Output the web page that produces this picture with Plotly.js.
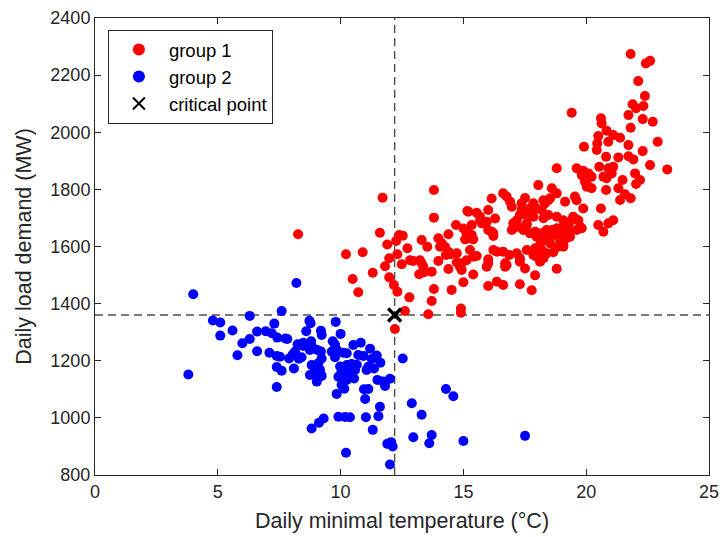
<!DOCTYPE html>
<html>
<head>
<meta charset="utf-8">
<script src="https://cdn.plot.ly/plotly-3.0.1.min.js"></script>
<style>html,body{margin:0;padding:0;background:#fff;}#chart{width:720px;height:537px;}</style>
</head>
<body>
<div id="chart"></div>
<script>
// group 1 (red)
var group1X = [8.27,10.22,10.9,10.49,10.72,11.31,11.6,11.71,11.81,11.9,
11.98,11.98,12.17,12.31,12.21,12.26,12.39,12.53,12.31,12.49,
12.62,12.72,12.8,12.83,12.96,13.23,13.3,13.37,13.2,13.4,
13.71,13.3,13.53,13.57,13.71,13.8,13.8,13.8,13.98,14.12,
14.39,14.25,14.05,14.39,14.29,14.48,14.73,13.98,14.39,14.73,
14.86,14.93,14.93,14.52,15.0,14.9,14.9,14.7,15.0,15.13,
15.2,15.16,15.07,15.4,15.34,15.13,15.34,15.2,15.54,15.68,
15.75,15.95,15.68,15.88,16.01,16.22,16.29,16.15,16.22,16.01,
16.15,16.62,16.76,16.9,16.01,15.54,15.4,15.27,15.13,15.4,
15.95,16.01,16.01,16.36,16.62,16.7,16.7,16.36,16.62,16.87,
16.22,16.76,17.17,17.3,17.51,17.3,17.78,17.92,17.58,17.85,
17.3,17.98,18.26,18.12,17.03,17.24,17.44,17.71,17.92,18.19,
18.39,18.6,18.8,18.93,19.07,18.73,18.46,18.26,18.53,18.12,
17.92,18.19,18.39,18.66,18.87,19.07,19.07,19.34,18.93,19.2,
19.07,17.17,17.37,17.51,16.97,17.58,17.98,18.05,17.71,17.85,
17.37,17.3,17.58,17.03,16.97,17.71,17.98,18.19,18.26,18.46,
17.58,17.85,18.26,18.46,18.8,19.07,19.34,19.54,19.75,19.61,
19.34,18.8,19.61,19.82,19.95,20.02,18.6,18.8,18.53,18.32,
19.54,19.61,19.88,19.14,19.47,19.68,19.82,19.27,19.07,18.8,
20.49,20.7,20.9,21.1,20.6,19.41,20.6,20.63,20.83,21.1,
21.38,20.49,20.45,20.9,20.43,21.72,22.91,22.3,19.91,20.81,
21.31,21.72,21.92,22.6,23.3,19.88,20.09,20.22,20.02,20.22,
20.53,20.9,21.1,20.7,21.04,20.83,21.48,21.99,22.19,22.03,
20.81,21.31,21.38,21.58,21.81,21.81,22.43,22.6,22.12,22.39,
21.89,22.33,22.03,21.72,22.3,22.71,21.81];
var group1Y = [1643,1573,1580,1486,1440,1508,1648,1771,1531,1607,
1559,1492,1465,1442,1311,1619,1640,1638,1573,1538,
1374,1594,1422,1552,1549,1552,1541,1529,1503,1510,
1512,1623,1599,1363,1409,1451,1701,1798,1629,1611,
1643,1599,1599,1582,1570,1573,1576,1549,1521,1545,
1529,1518,1541,1448,1475,1383,1368,1675,1663,1646,
1629,1724,1625,1625,1640,1658,1675,1722,1718,1704,
1681,1687,1692,1681,1658,1646,1698,1652,1637,1728,
1768,1786,1775,1757,1555,1567,1564,1588,1552,1502,
1529,1541,1462,1477,1465,1529,1541,1582,1582,1570,
1588,1535,1576,1547,1523,1468,1447,1499,1588,1570,
1559,1564,1559,1547,1664,1669,1658,1646,1652,1646,
1658,1658,1664,1652,1669,1640,1634,1622,1611,1605,
1594,1588,1576,1580,1599,1599,1640,1634,1622,1629,
1605,1692,1728,1770,1739,1675,1634,1815,1716,1751,
1751,1710,1681,1681,1658,1733,1733,1728,1762,1762,
1710,1704,1699,1710,1704,1692,1687,1698,1669,1658,
1652,1874,1874,1850,1827,1809,1804,1786,1769,1751,
1775,1762,1733,1757,1704,1692,1664,1669,1646,1522,
1675,1652,1681,1692,1733,2068,2049,2031,2005,1990,
1981,1987,1961,1967,1938,1955,1967,1934,1949,1914,
1912,1916,1905,1885,1870,1865,1856,1844,1819,1804,
1879,1874,1879,1844,1856,1839,1833,1856,1833,1819,
1798,1804,1763,1783,1769,2274,2241,2250,2179,2127,
2098,2092,2084,2060,2046,2037,2016];

// group 2 (blue)
var group2X = [4.0,3.8,8.2,6.3,7.6,4.8,5.1,7.3,5.6,5.1,6.6,6.95,7.2,7.42,7.75,7.83,6.3,6.0,5.8,6.6,7.1,7.4,7.53,7.9,8.15,8.25,7.4,7.6,8.1,7.4,
8.73,8.78,9.8,8.6,9.2,9.23,10.0,8.48,8.8,8.84,
8.05,8.3,8.41,8.48,8.75,9.05,9.2,9.23,9.09,8.82,
8.96,9.16,9.23,9.03,8.75,8.92,9.68,9.77,9.84,10.11,
9.64,9.77,10.25,10.52,10.82,10.72,10.93,11.2,11.27,11.47,
11.62,11.36,11.13,11.06,12.53,9.98,10.04,10.25,10.45,10.66,
10.59,10.38,10.11,9.91,10.25,10.55,10.04,10.15,9.84,11.5,
11.74,12.01,11.81,10.95,11.13,11.0,11.6,11.54,11.03,9.91,
10.18,10.38,9.31,9.12,8.82,11.31,10.22,11.9,12.06,12.12,
12.01,12.9,12.96,14.29,14.59,13.3,13.71,13.61,15.0,17.51];
var group2Y = [1433,1152,1472,1357,1374,1341,1334,1330,1306,1288,1302,1303,1296,1281,1278,1276,1276,1261,1219,1233,1228,1217,1214,1208,1232,1258,1178,1165,1173,1108,
1340,1331,1336,1303,1305,1290,1294,1263,1268,1249,
1222,1207,1212,1252,1238,1238,1232,1208,1191,1185,
1168,1168,1147,1127,1150,1156,1268,1257,1238,1228,
1232,1212,1226,1255,1263,1220,1217,1242,1206,1218,
1193,1173,1179,1168,1208,1180,1162,1185,1189,1186,
1168,1156,1150,1144,1133,1138,1115,1102,1084,1133,
1127,1137,1112,1100,1101,1066,1039,1006,1002,1004,
1003,1002,998,983,963,958,878,909,915,900,
837,1051,932,1101,1076,1011,940,911,919,937];

var criticalX = [12.2];
var criticalY = [1360];
var xTicks = [0,5,10,15,20,25];
var yTicks = [800,1000,1200,1400,1600,1800,2000,2200,2400];

var FONT = 'Liberation Sans, Arial, Helvetica, sans-serif';
var INK = '#262626';

var traces = [
  {x: group1X, y: group1Y, type: 'scatter', mode: 'markers', name: 'group 1',
   marker: {color: '#ff0000', size: 10}},
  {x: group2X, y: group2Y, type: 'scatter', mode: 'markers', name: 'group 2',
   marker: {color: '#0000ff', size: 10}},
  {x: criticalX, y: criticalY, type: 'scatter', mode: 'markers', name: 'critical point',
   marker: {symbol: 'x-thin', size: 13, color: '#000', line: {color: '#000', width: 3.4}}}
];

var axisCommon = {
  showline: true, linecolor: INK, linewidth: 1, mirror: 'ticks',
  ticks: 'inside', ticklen: 6, tickcolor: INK, tickwidth: 1,
  showgrid: false, zeroline: false,
  tickfont: {family: FONT, size: 18, color: INK}
};

var layout = {
  width: 720, height: 537,
  margin: {l: 95, r: 11, t: 18, b: 62},
  paper_bgcolor: '#fff', plot_bgcolor: '#fff',
  font: {family: FONT, color: INK},
  showlegend: true,
  xaxis: Object.assign({}, axisCommon, {
    range: [0, 25], tickvals: xTicks, ticktext: xTicks.map(String),
    title: {text: 'Daily minimal temperature (°C)', font: {family: FONT, size: 21.5, color: INK}, standoff: 12}
  }),
  yaxis: Object.assign({}, axisCommon, {
    range: [800, 2400], tickvals: yTicks, ticktext: yTicks.map(String),
    title: {text: 'Daily load demand (MW)', font: {family: FONT, size: 21.5, color: INK}, standoff: 12}
  }),
  legend: {
    x: 0.021, y: 0.974, xanchor: 'left', yanchor: 'top',
    bgcolor: '#fff', bordercolor: INK, borderwidth: 1,
    font: {family: FONT, size: 18.5, color: '#000'},
    tracegroupgap: 0, itemsizing: 'constant', itemwidth: 50
  },
  shapes: [
    {type: 'line', xref: 'x', yref: 'y', x0: 0, x1: 25, y0: criticalY[0], y1: criticalY[0], layer: 'below',
     line: {color: '#4d4d4d', width: 1.4, dash: '8px,5px'}},
    {type: 'line', xref: 'x', yref: 'y', x0: criticalX[0], x1: criticalX[0], y0: 800, y1: 2400, layer: 'below',
     line: {color: '#4d4d4d', width: 1.4, dash: '8px,5px'}}
  ]
};

Plotly.newPlot('chart', traces, layout, {staticPlot: true, displayModeBar: false});
</script>
</body>
</html>
